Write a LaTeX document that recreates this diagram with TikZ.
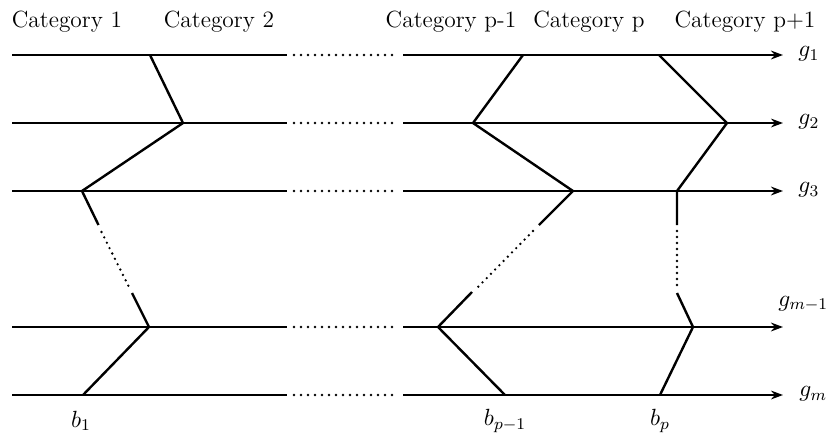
\RequirePackage{fix-cm}
\documentclass[tikz,border=0pt]{standalone}
\usepackage{fontspec}
\usetikzlibrary{arrows.meta}
\begin{document}
\begin{tikzpicture}[x=0.5pt,y=-0.5pt,
  hline/.style={line width=1.2pt},
  thinline/.style={line width=0.8pt},
  brk/.style={line width=1.2pt, line join=miter},
  dots/.style={line width=1.3pt, line cap=round, dash pattern=on 0pt off 3.5pt},
  vdots/.style={line width=1.3pt, line cap=round, dash pattern=on 0pt off 3pt},
  arr/.style={-{Stealth[length=6pt,width=4.4pt]}},
  lab/.style={font=\fontsize{11.7}{14}\selectfont, inner sep=0pt}]
\useasboundingbox (0,0) rectangle (832,446);
% rows
\foreach \n/\y in {1/55,2/123,3/191,4/327,5/395} {
  \coordinate (L\n) at (12,\y);
  \coordinate (M\n) at (287,\y);
  \coordinate (Da\n) at (294,\y);
  \coordinate (Db\n) at (399,\y);
  \coordinate (R\n) at (403,\y);
  \coordinate (E\n) at (783,\y);
  \draw[hline] (L\n) -- (M\n);
  \draw[dots] (Da\n) -- (Db\n);
}
\draw[hline,arr] (R1) -- (E1);
\draw[thinline,arr] (R2) -- (E2);
\draw[hline,arr] (R3) -- (E3);
\draw[hline,arr] (R4) -- (E4);
\draw[thinline,arr] (R5) -- (E5);
% boundary b1
\coordinate (a1) at (150,55);
\coordinate (a2) at (183,123);
\coordinate (a3) at (82,191);
\coordinate (a3s) at (98.5,225);
\coordinate (a3d) at (101.5,232);
\coordinate (a4d) at (129.5,288);
\coordinate (a4s) at (132,293);
\coordinate (a4) at (149,327);
\coordinate (a5) at (83,395);
\draw[brk] (a1) -- (a2) -- (a3) -- (a3s);
\draw[vdots] (a3d) -- (a4d);
\draw[brk] (a4s) -- (a4) -- (a5);
% boundary b_{p-1}
\coordinate (c1) at (523,55);
\coordinate (c2) at (473,123);
\coordinate (c3) at (573,191);
\coordinate (c3s) at (539,225);
\coordinate (c3d) at (533,231);
\coordinate (c4d) at (477,288);
\coordinate (c4s) at (472,292);
\coordinate (c4) at (438,327);
\coordinate (c5) at (505,395);
\draw[brk] (c1) -- (c2) -- (c3) -- (c3s);
\draw[vdots] (c3d) -- (c4d);
\draw[brk] (c4s) -- (c4) -- (c5);
% boundary b_p
\coordinate (d1) at (659,55);
\coordinate (d2) at (727,123);
\coordinate (d3) at (677,191);
\coordinate (d3s) at (677,225);
\coordinate (d3d) at (677,231);
\coordinate (d4d) at (677,288);
\coordinate (d4s) at (677,293);
\coordinate (d4) at (693,327);
\coordinate (d5) at (660,395);
\draw[brk] (d1) -- (d2) -- (d3) -- (d3s);
\draw[vdots] (d3d) -- (d4d);
\draw[brk] (d4s) -- (d4) -- (d5);
% category labels
\node[lab,anchor=base] (cat1) at (67,27) {Category 1};
\node[lab,anchor=base] (cat2) at (219,27) {Category 2};
\node[lab,anchor=base] (catpm) at (451,27) {Category p-1};
\node[lab,anchor=base] (catp) at (589,27) {Category p};
\node[lab,anchor=base] (catpp) at (745,27) {Category p+1};
% row labels
\node[lab,anchor=west] (g1) at (798,54) {$g_1$};
\node[lab,anchor=west] (g2) at (798,122) {$g_2$};
\node[lab,anchor=west] (g3) at (798,190) {$g_3$};
\node[lab,anchor=west] (gm1) at (778,304) {$g_{m-1}$};
\node[lab,anchor=west] (gm) at (799,394) {$g_m$};
% boundary labels
\node[lab] (b1) at (81,421) {$b_1$};
\node[lab] (bpm) at (505,421) {$b_{p-1}$};
\node[lab] (bp) at (660,421) {$b_p$};
\end{tikzpicture}
\end{document}
